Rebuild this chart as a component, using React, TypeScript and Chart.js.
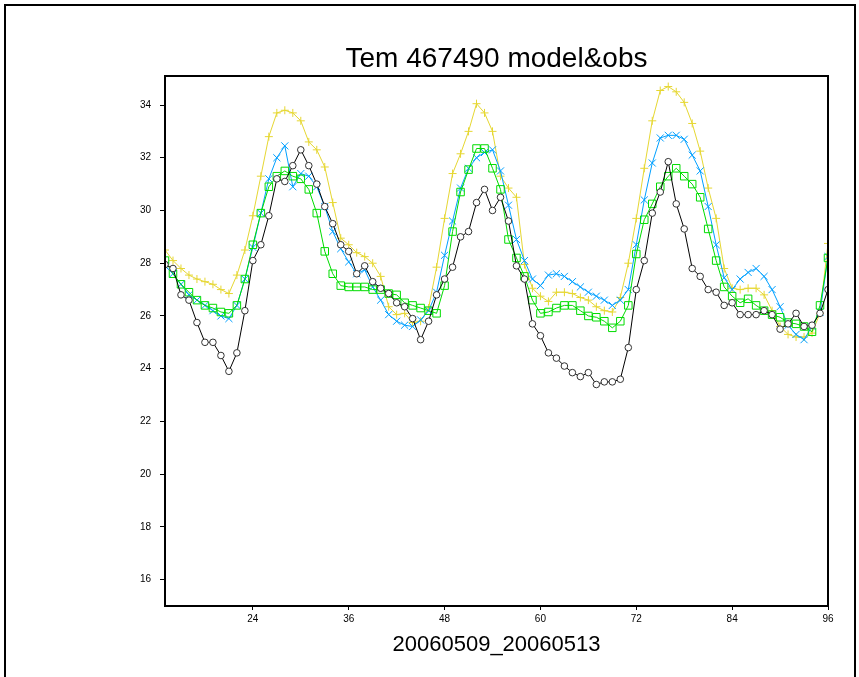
import React, { useEffect, useRef } from 'react';
import { Chart, registerables } from 'chart.js';

Chart.register(...registerables);

const HOURS = [
  13, 14, 15, 16, 17, 18, 19, 20, 21, 22, 23, 24, 25, 26, 27, 28, 29, 30, 31, 32, 33, 34,
  35, 36, 37, 38, 39, 40, 41, 42, 43, 44, 45, 46, 47, 48, 49, 50, 51, 52, 53, 54, 55, 56,
  57, 58, 59, 60, 61, 62, 63, 64, 65, 66, 67, 68, 69, 70, 71, 72, 73, 74, 75, 76, 77, 78,
  79, 80, 81, 82, 83, 84, 85, 86, 87, 88, 89, 90, 91, 92, 93, 94, 95, 96,
];

const OBS = [
  27.95, 27.8, 26.8, 26.6, 25.75, 25.0, 25.0, 24.5, 23.9, 24.6, 26.2, 28.1, 28.7, 29.8,
  31.2, 31.1, 31.7, 32.3, 31.7, 31.0, 30.15, 29.5, 28.7, 28.45, 27.6, 27.9, 27.3, 27.05,
  26.85, 26.5, 26.35, 25.9, 25.1, 25.8, 26.8, 27.4, 27.85, 29.0, 29.2, 30.3, 30.8, 30.0,
  30.5, 29.6, 27.9, 27.4, 25.7, 25.25, 24.6, 24.4, 24.1, 23.85, 23.7, 23.85, 23.4, 23.5,
  23.5, 23.6, 24.8, 27.0, 28.1, 29.9, 30.7, 31.85, 30.25, 29.3, 27.8, 27.5, 27.0, 26.9,
  26.4, 26.5, 26.05, 26.05, 26.05, 26.2, 26.05, 25.5, 25.7, 26.1, 25.6, 25.65, 26.1, 27.0,
];

const MODEL_YELLOW = [
  28.5, 28.1, 27.8, 27.55, 27.4, 27.3, 27.2, 27.0, 26.85, 27.55, 28.5, 29.8, 31.3, 32.8,
  33.7, 33.8, 33.7, 33.4, 32.6, 32.3, 31.65, 30.3, 28.95, 28.7, 28.4, 28.25, 28.0, 27.5,
  26.35, 26.05, 26.1, 25.75, 25.8, 26.3, 27.85, 29.7, 31.4, 32.15, 33.0, 34.05, 33.7, 33.0,
  31.3, 30.85, 30.5, 27.95, 27.05, 26.75, 26.55, 26.9, 26.9, 26.85, 26.7, 26.6, 26.35, 26.2,
  26.15, 26.7, 28.0, 29.7, 31.6, 33.4, 34.55, 34.7, 34.5, 34.1, 33.3, 32.25, 30.85, 29.7,
  27.8, 27.05, 27.0, 27.05, 27.05, 26.8, 26.2, 25.6, 25.3, 25.2, 25.2, 25.35, 26.1, 28.75,
];

const MODEL_BLUE = [
  27.9, 27.6, 27.2, 26.8, 26.6, 26.4, 26.2, 26.0, 25.9, 26.4, 27.4, 28.6, 29.9, 31.2,
  32.0, 32.45, 30.9, 31.4, 31.3, 30.9, 30.15, 29.2, 28.55, 28.05, 27.6, 27.75, 27.1, 26.6,
  26.05, 25.8, 25.65, 25.6, 25.85, 26.2, 26.9, 28.3, 29.6, 30.85, 31.6, 32.0, 32.2, 32.3,
  31.5, 30.2, 28.9, 28.1, 27.4, 27.15, 27.55, 27.6, 27.5, 27.3, 27.1, 26.9, 26.75, 26.6,
  26.4, 26.6, 27.0, 28.7, 30.4, 31.8, 32.75, 32.85, 32.85, 32.7, 32.1, 31.5, 30.15, 28.7,
  27.45, 27.0, 27.4, 27.65, 27.8, 27.5, 27.0, 26.35, 25.65, 25.3, 25.1, 25.6, 26.15, 28.25,
];

const MODEL_GREEN = [
  28.1, 27.6, 27.2, 26.9, 26.6, 26.4, 26.3, 26.15, 26.1, 26.4, 27.4, 28.7, 29.9, 30.9,
  31.3, 31.5, 31.3, 31.2, 30.8, 29.9, 28.45, 27.6, 27.15, 27.1, 27.1, 27.1, 27.0, 27.0,
  26.85, 26.8, 26.5, 26.4, 26.3, 26.2, 26.1, 27.15, 29.2, 30.7, 31.55, 32.35, 32.35, 31.6,
  30.8, 28.9, 28.2, 27.5, 26.6, 26.1, 26.15, 26.3, 26.4, 26.4, 26.2, 26.0, 25.95, 25.8,
  25.55, 25.8, 26.4, 28.35, 29.65, 30.25, 30.9, 31.3, 31.6, 31.3, 31.0, 30.5, 29.3, 28.1,
  27.1, 26.75, 26.5, 26.65, 26.4, 26.2, 26.05, 25.95, 25.75, 25.7, 25.6, 25.4, 26.4, 28.2,
];

const X_TICKS = [24, 36, 48, 60, 72, 84, 96];
const Y_TICKS = [16, 18, 20, 22, 24, 26, 28, 30, 32, 34];
const TITLE = 'Tem 467490 model&obs';
const X_TITLE = '20060509_20060513';

const FONT = '"Liberation Sans", Arial, sans-serif';

const toPoints = (vals: number[]) => HOURS.map((h, i) => ({ x: h, y: vals[i] }));

const framePlugin = {
  id: 'frameAndTitle',
  beforeDraw(chart: any) {
    const ctx = chart.ctx;
    ctx.save();
    ctx.fillStyle = '#ffffff';
    ctx.fillRect(0, 0, chart.width, chart.height);
    ctx.restore();
  },
  afterDraw(chart: any) {
    const ctx = chart.ctx;
    const a = chart.chartArea;
    ctx.save();
    ctx.strokeStyle = '#000000';
    ctx.lineWidth = 2;
    // outer page frame
    ctx.beginPath();
    ctx.moveTo(5, chart.height + 5);
    ctx.lineTo(5, 5);
    ctx.lineTo(855, 5);
    ctx.lineTo(855, chart.height + 5);
    ctx.stroke();
    // plot box
    ctx.strokeRect(a.left, a.top, a.right - a.left, a.bottom - a.top);
    // title
    ctx.fillStyle = '#000000';
    ctx.font = `28px ${FONT}`;
    ctx.textAlign = 'center';
    ctx.textBaseline = 'alphabetic';
    ctx.fillText(TITLE, (a.left + a.right) / 2, 67);
    ctx.restore();
  },
};

export default function App() {
  const ref = useRef<HTMLCanvasElement | null>(null);

  useEffect(() => {
    if (!ref.current) return;
    const chart = new Chart(ref.current, {
      type: 'line',
      data: {
        datasets: [
          {
            label: 'obs',
            data: toPoints(OBS),
            borderColor: '#000000',
            backgroundColor: '#ffffff',
            borderWidth: 1,
            pointStyle: 'circle',
            pointRadius: 3.3,
            pointBorderWidth: 1,
            pointBorderColor: '#333333',
            pointBackgroundColor: '#ffffff',
            tension: 0,
          },
          {
            label: 'model green',
            data: toPoints(MODEL_GREEN),
            borderColor: 'rgb(0,220,0)',
            backgroundColor: 'rgba(0,0,0,0)',
            borderWidth: 1,
            pointStyle: 'rect',
            pointRadius: 5.3,
            pointBorderWidth: 1,
            pointBorderColor: 'rgb(0,220,0)',
            pointBackgroundColor: 'rgba(0,0,0,0)',
            tension: 0,
          },
          {
            label: 'model blue',
            data: toPoints(MODEL_BLUE),
            borderColor: 'rgb(0,160,255)',
            backgroundColor: 'rgb(0,160,255)',
            borderWidth: 1,
            pointStyle: 'crossRot',
            pointRadius: 5,
            pointBorderWidth: 1,
            pointBorderColor: 'rgb(0,160,255)',
            tension: 0,
          },
          {
            label: 'model yellow',
            data: toPoints(MODEL_YELLOW),
            borderColor: 'rgb(230,215,50)',
            backgroundColor: 'rgb(230,215,50)',
            borderWidth: 1,
            pointStyle: 'cross',
            pointRadius: 4,
            pointBorderWidth: 1,
            pointBorderColor: 'rgb(230,215,50)',
            tension: 0,
          },
        ],
      },
      options: {
        responsive: false,
        maintainAspectRatio: false,
        animation: false,
        events: [],
        layout: { padding: { top: 76, left: 0, right: 31, bottom: 0 } },
        plugins: {
          legend: { display: false },
          tooltip: { enabled: false },
          title: { display: false },
        },
        scales: {
          x: {
            type: 'linear',
            position: 'bottom',
            min: 13,
            max: 96,
            afterBuildTicks: (s: any) => {
              s.ticks = X_TICKS.map((v) => ({ value: v }));
            },
            afterFit: (s: any) => {
              s.height = 71;
            },
            ticks: {
              color: '#000000',
              font: { family: FONT, size: 10 },
              padding: 3,
              maxRotation: 0,
              autoSkip: false,
            },
            grid: {
              drawOnChartArea: false,
              drawTicks: true,
              tickLength: 4,
              color: '#000000',
              lineWidth: 1,
            },
            border: { display: false },
            title: {
              display: true,
              text: X_TITLE,
              color: '#000000',
              font: { family: FONT, size: 22 },
              padding: { top: 0, bottom: 19 },
            },
          },
          y: {
            type: 'linear',
            min: 15,
            max: 35.1,
            afterBuildTicks: (s: any) => {
              s.ticks = Y_TICKS.map((v) => ({ value: v }));
            },
            afterFit: (s: any) => {
              s.width = 165;
            },
            ticks: {
              color: '#000000',
              font: { family: FONT, size: 10 },
              padding: 9,
              autoSkip: false,
            },
            grid: {
              drawOnChartArea: false,
              drawTicks: true,
              tickLength: 5,
              color: '#000000',
              lineWidth: 1,
            },
            border: { display: false },
          },
        },
      },
      plugins: [framePlugin],
    });
    return () => chart.destroy();
  }, []);

  return (
    <div style={{ position: 'absolute', left: 0, top: 0, width: 859, height: 677, background: '#ffffff' }}>
      <canvas ref={ref} width={859} height={677} />
    </div>
  );
}
